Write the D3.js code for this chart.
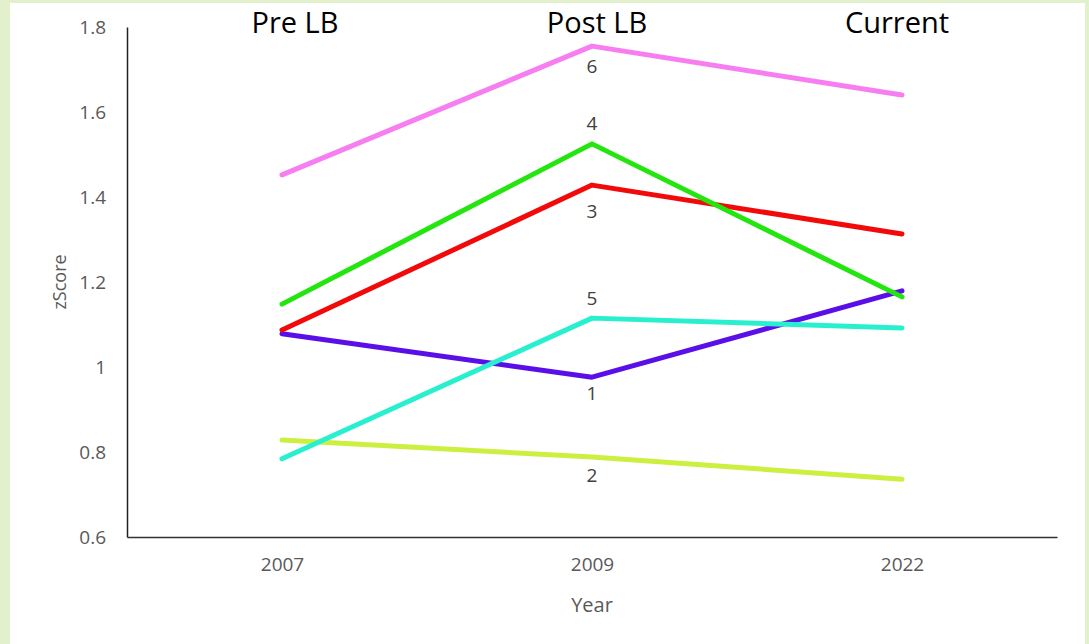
<!DOCTYPE html>
<html><head><meta charset="utf-8">
<script src="https://cdn.jsdelivr.net/npm/d3@7"></script>
<style>html,body{margin:0;padding:0;background:#e2f0cc;}svg{display:block;}</style>
</head><body><svg id="c" width="1089" height="644"></svg>
<script>
const years = ["2007", "2009", "2022"];
const phases = ["Pre LB", "Post LB", "Current"];
const yTicks = [0.6, 0.8, 1.0, 1.2, 1.4, 1.6, 1.8];
const seriesNames = ["1", "2", "3", "4", "5", "6"];
const s1 = [1.078, 0.976, 1.179];
const s2 = [0.828, 0.788, 0.736];
const s3 = [1.087, 1.428, 1.313];
const s4 = [1.148, 1.525, 1.165];
const s5 = [0.784, 1.115, 1.092];
const s6 = [1.452, 1.755, 1.640];
const colors = ["#5a0fe8", "#ccf040", "#f20a0a", "#22e60e", "#28f0cf", "#f77ef0"];
const labelValues = [0.934, 0.741, 1.362, 1.569, 1.158, 1.704];

const seriesValues = [s1, s2, s3, s4, s5, s6];
const svg = d3.select("#c");
svg.append("rect").attr("x", 10).attr("y", 3).attr("width", 1075).attr("height", 641).attr("fill", "#ffffff");

const mLeft = 127, mRight = 1057, mTop = 27, mBottom = 537;
const x = d3.scalePoint().domain(years).range([mLeft, mRight]).padding(0.5);
const y = d3.scaleLinear().domain([0.6, 1.8]).range([mBottom, mTop]);

const font = "'Open Sans', 'Noto Sans', sans-serif";

// axes
const yAxis = svg.append("g").attr("transform", `translate(${mLeft},0)`)
  .call(d3.axisLeft(y).tickValues(yTicks).tickSize(0).tickPadding(21)
    .tickFormat(d => d === 1 ? "1" : d3.format(".1f")(d)));
yAxis.select(".domain").attr("stroke", "#222").attr("stroke-width", 1.5);
yAxis.selectAll("text").attr("fill", "#595959").style("font-family", font).style("font-size", "19px");

const xAxis = svg.append("g").attr("transform", `translate(0,${mBottom})`)
  .call(d3.axisBottom(x).tickSize(0).tickPadding(21));
xAxis.select(".domain").attr("stroke", "#333").attr("stroke-width", 1.5);
xAxis.selectAll("text").attr("fill", "#595959").style("font-family", font).style("font-size", "19px");

svg.append("text").attr("transform", `translate(66,${(mTop + mBottom) / 2}) rotate(-90)`)
  .attr("text-anchor", "middle").attr("fill", "#595959")
  .style("font-family", font).style("font-size", "18px").text("zScore");
svg.append("text").attr("x", x("2009")).attr("y", 612).attr("text-anchor", "middle").attr("fill", "#595959")
  .style("font-family", font).style("font-size", "20px").text("Year");

// phase headers
const phaseOffsets = [13, 5, -5];
svg.selectAll(".phase").data(phases).enter().append("text")
  .attr("x", (d, i) => x(years[i]) + phaseOffsets[i]).attr("y", 33)
  .attr("text-anchor", "middle").attr("fill", "#000")
  .style("font-family", font).style("font-size", "29px").text(d => d);

// lines
const line = d3.line().x((d, i) => x(years[i])).y(d => y(d));
seriesValues.forEach((vals, k) => {
  svg.append("path").attr("d", line(vals)).attr("fill", "none")
    .attr("stroke", colors[k]).attr("stroke-width", 5)
    .attr("stroke-linecap", "round").attr("stroke-linejoin", "round");
});

// series labels
svg.selectAll(".lbl").data(seriesNames).enter().append("text")
  .attr("x", x("2009")).attr("y", (d, i) => y(labelValues[i]))
  .attr("text-anchor", "middle").attr("dominant-baseline", "middle").attr("fill", "#404040")
  .style("font-family", font).style("font-size", "19px").text(d => d);
</script></body></html>
